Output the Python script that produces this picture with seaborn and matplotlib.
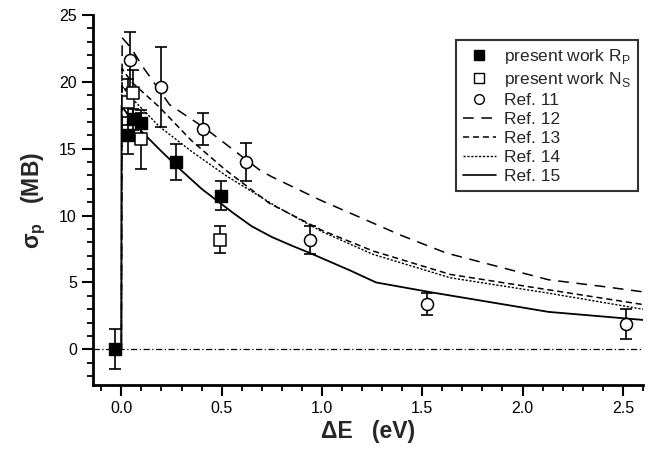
import numpy as np
import pandas as pd
import seaborn as sns
from matplotlib import pyplot as plt
from matplotlib.ticker import MultipleLocator
from matplotlib.lines import Line2D

# present work R_P (filled squares)
rp_x = [-0.03, 0.035, 0.06, 0.10, 0.27, 0.495]
rp_y = [0.0, 16.0, 17.2, 16.9, 14.0, 11.5]
rp_err = [1.5, 1.4, 0.8, 0.8, 1.35, 1.05]

# present work N_S (open squares)
ns_x = [0.035, 0.06, 0.10, 0.49]
ns_y = [18.5, 19.2, 15.7, 8.2]
ns_err = [1.7, 1.7, 2.2, 1.0]

# Ref. 11 (open circles)
r11_x = [0.042, 0.20, 0.405, 0.62, 0.94, 1.525, 2.515]
r11_y = [21.6, 19.6, 16.5, 14.0, 8.2, 3.4, 1.9]
r11_err = [2.1, 3.0, 1.2, 1.4, 1.05, 0.8, 1.15]

# theory curves
r12_x = [0.0, 0.004, 0.05, 0.108, 0.24, 0.42, 0.69, 0.75, 1.0, 1.2, 1.39, 1.62, 1.9, 2.13, 2.4, 2.6]
r12_y = [0.0, 23.3, 22.5, 21.1, 18.3, 16.5, 13.4, 12.9, 11.1, 9.8, 8.55, 7.2, 6.1, 5.2, 4.7, 4.3]

r13_x = [0.0, 0.003, 0.05, 0.19, 0.35, 0.52, 0.74, 1.0, 1.255, 1.64, 2.13, 2.6]
r13_y = [0.0, 21.0, 20.0, 18.1, 15.6, 13.4, 10.9, 8.9, 7.35, 5.6, 4.45, 3.35]

r14_x = [0.0, 0.002, 0.05, 0.19, 0.35, 0.52, 0.77, 1.0, 1.255, 1.64, 2.13, 2.6]
r14_y = [0.0, 19.7, 18.8, 16.65, 14.8, 13.0, 10.7, 8.8, 7.1, 5.35, 4.2, 3.0]

r15_x = [0.0, 0.001, 0.03, 0.1, 0.2, 0.29, 0.4, 0.557, 0.65, 0.75, 0.85, 0.94, 1.04, 1.14, 1.27, 1.55, 1.85, 2.13, 2.6]
r15_y = [0.0, 18.2, 17.6, 16.3, 14.8, 13.5, 12.0, 10.2, 9.2, 8.4, 7.75, 7.2, 6.55, 5.9, 5.0, 4.25, 3.5, 2.8, 2.2]

sns.set_style('ticks')
plt.rcParams['font.family'] = ['Liberation Sans', 'DejaVu Sans']
plt.rcParams['mathtext.fontset'] = 'custom'
plt.rcParams['mathtext.rm'] = 'Liberation Sans'
plt.rcParams['mathtext.bf'] = 'Liberation Sans:bold'

fig = plt.figure(figsize=(6.54, 4.53), dpi=100)
ax = fig.add_axes([0.142, 0.150, 0.841, 0.817])

# zero line
ax.axhline(0, color='black', lw=0.9, ls=(0, (5, 2, 1, 2)))

curves = [
    (r12_x, r12_y, (0, (7, 5)), 1.1),
    (r13_x, r13_y, (0, (4, 2.5)), 1.1),
    (r14_x, r14_y, (0, (1.6, 1.2)), 1.0),
    (r15_x, r15_y, '-', 1.3),
]
for cx, cy, ls, lw in curves:
    df = pd.DataFrame({'x': cx, 'y': cy})
    sns.lineplot(data=df, x='x', y='y', sort=False, estimator=None,
                 color='black', lw=lw, linestyle=ls, ax=ax)

ekw = dict(fmt='none', ecolor='black', elinewidth=1.2, capsize=4, capthick=1.2, zorder=3)
ax.errorbar(rp_x, rp_y, yerr=rp_err, **ekw)
ax.errorbar(ns_x, ns_y, yerr=ns_err, **ekw)
ax.errorbar(r11_x, r11_y, yerr=r11_err, **ekw)

sns.scatterplot(x=r11_x, y=r11_y, marker='o', s=75, facecolor='white',
                edgecolor='black', linewidth=1.1, ax=ax, zorder=4)
sns.scatterplot(x=ns_x, y=ns_y, marker='s', s=70, facecolor='white',
                edgecolor='black', linewidth=1.1, ax=ax, zorder=4)
sns.scatterplot(x=rp_x, y=rp_y, marker='s', s=85, color='black',
                edgecolor='black', linewidth=1, ax=ax, zorder=5)

ax.set_xlim(-0.142, 2.6)
ax.set_ylim(-2.67, 25)
ax.xaxis.set_major_locator(MultipleLocator(0.5))
ax.xaxis.set_minor_locator(MultipleLocator(0.1))
ax.yaxis.set_major_locator(MultipleLocator(5))
ax.yaxis.set_minor_locator(MultipleLocator(1))
ax.xaxis.set_major_formatter(plt.FuncFormatter(lambda v, p: f'{v:.1f}'))
ax.yaxis.set_major_formatter(plt.FuncFormatter(lambda v, p: f'{v:.0f}'))

for s in ['top', 'right']:
    ax.spines[s].set_visible(False)
for s in ['left', 'bottom']:
    ax.spines[s].set_linewidth(2)
    ax.spines[s].set_color('black')
ax.tick_params(which='major', length=8, width=1.5, labelsize=11.5, colors='black', direction='out')
ax.tick_params(which='minor', length=4.5, width=1.3, colors='black', direction='out')

ax.set_xlabel('ΔE   (eV)', fontsize=16.5, fontweight='bold', labelpad=3)
ax.set_ylabel(r'σ$_\mathbf{p}$   (MB)', fontsize=16.5, fontweight='bold', labelpad=8)

handles = [
    Line2D([], [], ls='none', marker='s', ms=7, color='black'),
    Line2D([], [], ls='none', marker='s', ms=7, mfc='white', mec='black', mew=1),
    Line2D([], [], ls='none', marker='o', ms=7, mfc='white', mec='black', mew=1),
    Line2D([], [], color='black', lw=1.1, ls=(0, (7, 5))),
    Line2D([], [], color='black', lw=1.1, ls=(0, (4, 2.5))),
    Line2D([], [], color='black', lw=1.0, ls=(0, (1.6, 1.2))),
    Line2D([], [], color='black', lw=1.2, ls='-'),
]
labels = ['present work R$_\\mathrm{P}$', 'present work N$_\\mathrm{S}$',
          'Ref. 11', 'Ref. 12', 'Ref. 13', 'Ref. 14', 'Ref. 15']
leg = ax.legend(handles, labels, loc='upper right', bbox_to_anchor=(0.991, 0.932),
                borderaxespad=0, fontsize=12.5, frameon=True, fancybox=False,
                handlelength=1.9, handletextpad=0.5, labelspacing=0.22,
                borderpad=0.4, edgecolor='black')
leg.get_frame().set_linewidth(1.5)

plt.savefig('out.png', dpi=100)
